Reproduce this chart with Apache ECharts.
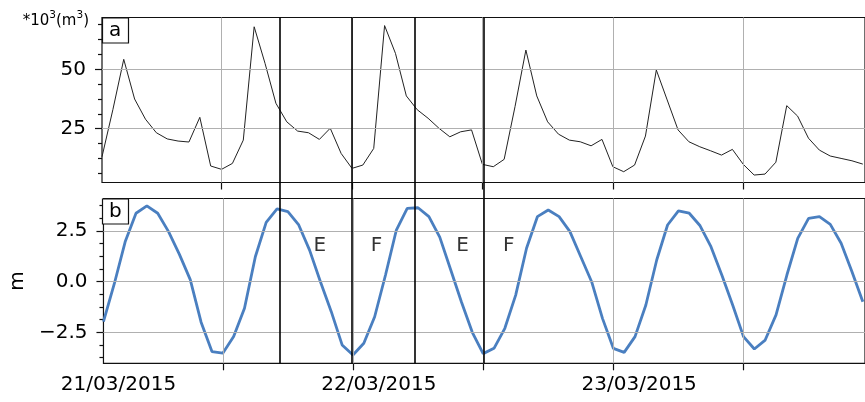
<!DOCTYPE html>
<html><head><meta charset="utf-8">
<script src="https://cdn.jsdelivr.net/npm/echarts@6/dist/echarts.min.js"></script>
<style>html,body{margin:0;padding:0;background:#fff}#c{width:865px;height:402px}</style>
</head><body><div id="c"></div>
<script>
const FONT = 'DejaVu Sans';
// time axis: hours since 21/03/2015 00:00; hourly samples starting at 01:00
const startHour = 1;
// panel a: volume (*10^3 m^3)
const volume = [13.2,33,54.2,37.5,29.0,23.3,20.7,19.8,19.4,29.8,9.3,7.9,10.4,20.2,67.9,52.5,35.7,27.9,24.0,23.3,20.5,25.2,14.6,8.3,9.7,16.7,68.4,56.7,38.8,33,29.4,25.2,21.6,23.7,24.5,10.0,9.0,12.1,34.3,58.1,38.8,27.9,22.7,20.2,19.5,17.8,20.5,9.0,6.9,9.7,21.9,49.7,37.1,24.5,19.5,17.4,15.7,13.9,16.3,10.0,5.5,5.9,10.9,34.7,30.3,21.0,16.0,13.5,12.5,11.5,10.1];
// panel b: water level (m)
const tide = [-1.97,-0.1,1.97,3.38,3.74,3.38,2.47,1.35,0.1,-2.0,-3.45,-3.53,-2.71,-1.31,1.23,2.93,3.59,3.46,2.80,1.56,0.0,-1.48,-3.12,-3.62,-3.04,-1.73,0.33,2.55,3.62,3.65,3.21,2.2,0.6,-1.0,-2.5,-3.55,-3.29,-2.30,-0.66,1.65,3.21,3.54,3.21,2.47,1.23,0.0,-1.81,-3.29,-3.49,-2.71,-1.15,1.07,2.80,3.50,3.38,2.76,1.73,0.33,-1.15,-2.71,-3.32,-2.88,-1.64,0.33,2.14,3.13,3.21,2.83,1.90,0.49,-0.99];
// ticks
const tickHours = [12,24,36,48,60];
const dateLabelHours = [0,24,48];
const dateLabels = ['21/03/2015','22/03/2015','23/03/2015'];
const volTicks = [25,50];
const volMinor = [6.25,12.5,18.75,31.25,37.5,43.75,56.25,62.5,68.75];
const tideTicks = [-2.5,0,2.5];
const tideMinor = [-3.75,-3.125,-1.875,-1.25,-0.625,0.625,1.25,1.875,3.125,3.75];
// event lines (hours) and phase labels
const eventHours = [17.35,24,29.8,36.1];
const phaseHours = [20.94,26.17,34.1,38.37];
const phaseNames = ['E','F','E','F'];
const phaseLevel = 1.77;

const volData = volume.map((v,i)=>[startHour+i, v]);
const tideData = tide.map((v,i)=>[startHour+i, v]);
const phaseData = phaseHours.map((h,i)=>[h, phaseLevel, phaseNames[i]]);

const xMin = 1, xMax = 71.2, labelShift = 2.385;
const tickStyle = {color:'#111', width:1.2};
const gridLine = {color:'#b0b0b0', width:1, type:'solid'};
function xAx(grid){
  return {type:'value', gridIndex:grid, min:xMin, max:xMax, position:'bottom',
    axisLine:{show:false,onZero:false},
    axisTick:{show:true, customValues:tickHours, length:7, inside:false, lineStyle:tickStyle},
    axisLabel:{show:false}, splitLine:{show:false}};
}
function minorAx(grid,min,max,vals){
  return {type:'value', gridIndex:grid, min:min, max:max, position:'left',
    axisLine:{show:false,onZero:false},
    axisTick:{show:true, customValues:vals, length:4, inside:false, lineStyle:tickStyle},
    axisLabel:{show:false}, splitLine:{show:false}};
}
const fmt = v => v.toFixed(1).replace('-', '\u2212');

const chart = echarts.init(document.getElementById('c'), null, {renderer:'canvas'});
chart.setOption({
  animation:false,
  backgroundColor:'#fff',
  textStyle:{fontFamily:FONT},
  title:[
    {text:'a', left:102, top:17.5, padding:[3,7,3,7], borderColor:'#111', borderWidth:1.2, backgroundColor:'#fff',
     textStyle:{fontSize:20, fontWeight:'normal', fontFamily:FONT, color:'#000'}},
    {text:'b', left:102, top:198.5, padding:[3,7,3,7], borderColor:'#111', borderWidth:1.2, backgroundColor:'#fff',
     textStyle:{fontSize:20, fontWeight:'normal', fontFamily:FONT, color:'#000'}}
  ],
  grid:[
    {left:102, top:17.5, width:765, height:165, show:true, borderColor:'#111', borderWidth:1.2, backgroundColor:'transparent'},
    {left:102, top:198.5, width:765, height:164.8, show:true, borderColor:'#111', borderWidth:1.2, backgroundColor:'transparent'},
    {left:102, top:17.5, width:765, height:345.8, show:false}
  ],
  xAxis:[
    xAx(0),
    xAx(1),
    {type:'value', gridIndex:1, min:xMin-labelShift, max:xMax-labelShift, position:'bottom', offset:0,
     axisLine:{show:false,onZero:false}, axisTick:{show:false}, splitLine:{show:false},
     axisLabel:{show:true, customValues:dateLabelHours, margin:11, fontSize:20, color:'#000', fontFamily:FONT,
       formatter:v=>dateLabels[dateLabelHours.indexOf(v)]}},
    {type:'value', gridIndex:2, min:xMin, max:xMax, show:false}
  ],
  yAxis:[
    {type:'value', gridIndex:0, min:2.36, max:71.8,
     axisLine:{show:false,onZero:false},
     axisTick:{show:true, customValues:volTicks, length:7, inside:false, lineStyle:tickStyle},
     axisLabel:{show:true, customValues:volTicks, margin:16, fontSize:20, color:'#000', fontFamily:FONT},
     splitLine:{show:false},
     name:'{b|*10}{s|3}{b|(m}{s|3}{b|)}', nameLocation:'end', nameGap:-2,
     nameTextStyle:{align:'right', verticalAlign:'middle', padding:[0,13,0,0], color:'#000', fontFamily:FONT,
       rich:{b:{fontSize:15, fontFamily:FONT, color:'#000', padding:[4,0,0,0], verticalAlign:'bottom'},
             s:{fontSize:10.5, fontFamily:FONT, color:'#000', verticalAlign:'top'}}}},
    minorAx(0,2.36,71.8,volMinor),
    {type:'value', gridIndex:1, min:-4.028, max:4.107,
     axisLine:{show:false,onZero:false},
     axisTick:{show:true, customValues:tideTicks, length:7, inside:false, lineStyle:tickStyle},
     axisLabel:{show:true, customValues:tideTicks, margin:16, fontSize:20, color:'#000', fontFamily:FONT, formatter:fmt},
     splitLine:{show:false},
     name:'m', nameLocation:'middle', nameRotate:90, nameGap:72,
     nameTextStyle:{fontSize:20, color:'#000', fontFamily:FONT}},
    minorAx(1,-4.028,4.107,tideMinor),
    {type:'value', gridIndex:2, min:0, max:1, show:false}
  ],
  series:[
    {type:'line', xAxisIndex:0, yAxisIndex:0, data:[], z:1, silent:true,
     markLine:{silent:true, symbol:['none','none'], label:{show:false}, lineStyle:gridLine,
       data:tickHours.map(h=>({xAxis:h})).concat(volTicks.map(v=>({yAxis:v})))}},
    {type:'line', xAxisIndex:1, yAxisIndex:2, data:[], z:1, silent:true,
     markLine:{silent:true, symbol:['none','none'], label:{show:false}, lineStyle:gridLine,
       data:tickHours.map(h=>({xAxis:h})).concat(tideTicks.map(v=>({yAxis:v})))}},
    {type:'line', name:'volume', xAxisIndex:0, yAxisIndex:0, data:volData, showSymbol:false, z:3,
     lineStyle:{color:'#222', width:1}},
    {type:'line', name:'tide', xAxisIndex:1, yAxisIndex:2, data:tideData, showSymbol:false, z:3,
     lineStyle:{color:'#4a7fc0', width:2.8}},
    {type:'scatter', xAxisIndex:1, yAxisIndex:2, data:phaseData, symbolSize:0, z:4,
     label:{show:true, position:'inside', formatter:p=>p.data[2], fontSize:20, color:'#000', fontFamily:FONT}},
    {type:'line', xAxisIndex:3, yAxisIndex:4, data:[], z:5, silent:true,
     markLine:{silent:true, symbol:['none','none'], label:{show:false}, lineStyle:{color:'#000', width:1.6, type:'solid'},
       data:eventHours.map(h=>({xAxis:h}))}}
  ]
});
</script></body></html>
